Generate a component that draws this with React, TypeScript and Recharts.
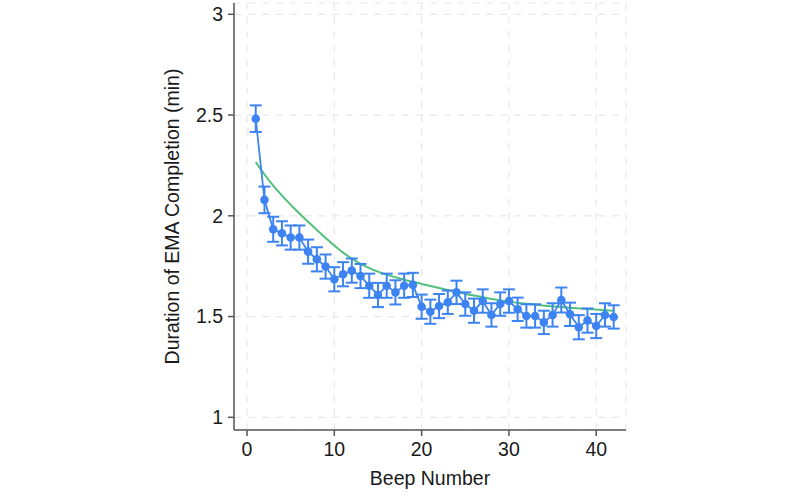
import React from 'react';
import {
  ComposedChart,
  Line,
  XAxis,
  YAxis,
  CartesianGrid,
  ErrorBar,
} from 'recharts';

// mean duration per beep, with half-width of the error bar
const beeps = [
  1, 2, 3, 4, 5, 6, 7, 8, 9, 10, 11, 12, 13, 14, 15, 16, 17, 18, 19, 20, 21,
  22, 23, 24, 25, 26, 27, 28, 29, 30, 31, 32, 33, 34, 35, 36, 37, 38, 39, 40,
  41, 42,
];
const meanMinutes = [
  2.482, 2.079, 1.933, 1.913, 1.892, 1.892, 1.822, 1.784, 1.748, 1.685, 1.71,
  1.728, 1.701, 1.653, 1.607, 1.653, 1.62, 1.653, 1.657, 1.549, 1.524, 1.552,
  1.571, 1.62, 1.562, 1.529, 1.577, 1.508, 1.562, 1.577, 1.536, 1.503, 1.503,
  1.471, 1.508, 1.582, 1.511, 1.447, 1.48, 1.453, 1.508, 1.498,
];
const errMinutes = [
  0.066, 0.066, 0.062, 0.06, 0.06, 0.06, 0.06, 0.06, 0.06, 0.06, 0.06, 0.06,
  0.06, 0.06, 0.06, 0.06, 0.06, 0.06, 0.06, 0.06, 0.06, 0.06, 0.058, 0.058,
  0.058, 0.06, 0.058, 0.058, 0.058, 0.058, 0.058, 0.058, 0.058, 0.058, 0.058,
  0.062, 0.058, 0.06, 0.06, 0.06, 0.058, 0.058,
];

// fitted decay curve
const fitBeeps = [1, 2, 3, 5, 7, 9, 11, 13, 15, 18, 20, 23, 26, 29, 33, 37, 42];
const fitMinutes = [
  2.266, 2.205, 2.15, 2.055, 1.97, 1.89, 1.817, 1.762, 1.723, 1.683, 1.662,
  1.632, 1.604, 1.58, 1.559, 1.544, 1.528,
];

const xTicks = [0, 10, 20, 30, 40];
const yTicks = [1, 1.5, 2, 2.5, 3];

const meanData = beeps.map((b, i) => ({ beep: b, mean: meanMinutes[i], err: errMinutes[i] }));
const fitData = fitBeeps.map((b, i) => ({ beep: b, fit: fitMinutes[i] }));

const FONT = '"Liberation Sans", Arial, Helvetica, sans-serif';
const BLUE = '#3d84f2';
const GREEN = '#52c17d';
const AXIS = '#555555';

export default function App() {
  const tickStyle = { fontSize: 19.5, fill: '#1a1a1a', fontFamily: FONT };
  const titleStyle = { fontSize: 19.5, fill: '#1a1a1a', fontFamily: FONT };

  return (
    <div style={{ position: 'absolute', left: 0, top: 0, background: '#fff' }}>
      <ComposedChart
        width={800}
        height={500}
        margin={{ top: 3, right: 174, bottom: 0, left: 0 }}
        style={{ fontFamily: FONT }}
      >
        <CartesianGrid stroke="#e8e8e8" strokeDasharray="7 7" strokeWidth={1.2} />
        <XAxis
          type="number"
          dataKey="beep"
          domain={[-1.49, 43.41]}
          ticks={xTicks}
          allowDataOverflow
          height={70}
          tickSize={6}
          tickMargin={6}
          stroke={AXIS}
          strokeWidth={1.5}
          tick={tickStyle}
          label={{
            value: 'Beep Number',
            position: 'insideBottom',
            offset: 15,
            style: titleStyle,
          }}
        />
        <YAxis
          type="number"
          domain={[0.937, 3.056]}
          ticks={yTicks}
          allowDataOverflow
          width={234}
          tickSize={6}
          tickMargin={5}
          stroke={AXIS}
          strokeWidth={1.5}
          tick={tickStyle}
          label={{
            value: 'Duration of EMA Completion (min)',
            angle: -90,
            position: 'center',
            dx: 55,
            style: { ...titleStyle, textAnchor: 'middle' },
          }}
        />
        <Line
          data={fitData}
          dataKey="fit"
          type="monotone"
          stroke={GREEN}
          strokeWidth={2}
          dot={false}
          isAnimationActive={false}
        />
        <Line
          data={meanData}
          dataKey="mean"
          type="linear"
          stroke={BLUE}
          strokeWidth={1.8}
          dot={{ r: 4.3, fill: BLUE, stroke: BLUE, strokeWidth: 0 }}
          isAnimationActive={false}
        >
          <ErrorBar
            dataKey="err"
            direction="y"
            width={6}
            stroke={BLUE}
            strokeWidth={2}
            isAnimationActive={false}
          />
        </Line>
      </ComposedChart>
    </div>
  );
}
